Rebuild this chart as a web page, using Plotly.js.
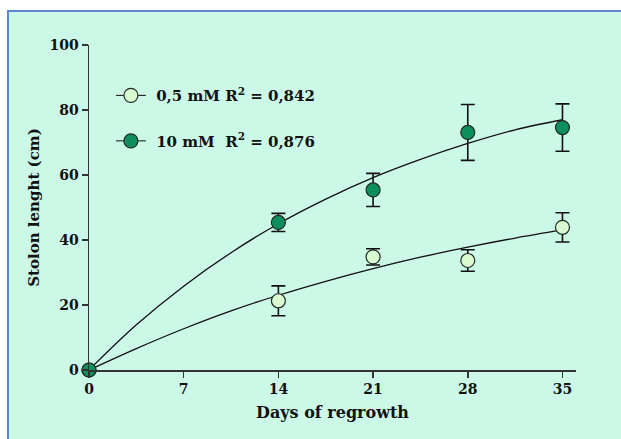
<!DOCTYPE html>
<html>
<head>
<meta charset="utf-8">
<script src="https://cdn.plot.ly/plotly-3.0.1.min.js"></script>
<style>
html,body{margin:0;padding:0;background:#ffffff;}
#wrap{position:absolute;left:7px;top:10px;width:614px;height:429px;box-sizing:border-box;border-left:2px solid #5b87cf;border-top:2px solid #5b87cf;background:#ccf8e8;}
#chart{position:absolute;left:0;top:0;width:621px;height:439px;}
</style>
</head>
<body>
<div id="wrap"></div>
<div id="chart"></div>
<script>
// Days of regrowth
const days = [0, 14, 21, 28, 35];
// 0,5 mM series (mean, error)
const low = [0, 21.3, 34.8, 33.7, 43.9];
const lowErr = [0, 4.6, 2.5, 3.3, 4.5];
// 10 mM series (mean, error)
const high = [0, 45.4, 55.4, 73.1, 74.6];
const highErr = [0, 2.8, 5.1, 8.6, 7.3];
// Fitted curves
const fitDays = [0, 3.5, 7, 10.5, 14, 17.5, 21, 24.5, 28, 31.5, 35];
const lowFit = [0, 6.6, 12.7, 18.2, 23.0, 27.3, 31.2, 34.7, 37.8, 40.6, 43.1];
const highFit = [0, 13.9, 25.8, 36.1, 45.0, 52.6, 59.2, 64.8, 69.7, 73.9, 77.0];
// Legend labels
const lowLabel = '&nbsp;0,5 mM R<sup>2</sup> = 0,842';
const highLabel = '&nbsp;10 mM&nbsp; R<sup>2</sup> = 0,876';
const xTicks = [0, 7, 14, 21, 28, 35];
const yTicks = [0, 20, 40, 60, 80, 100];

const FONT = 'DejaVu Serif, Liberation Serif, serif';
const lowColor = '#d8fbcf';
const highColor = '#0d8f5d';
const edge = '#1f2a24';

const traces = [
  {x: fitDays, y: lowFit, mode: 'lines', line: {color: '#111', width: 1.3, shape: 'spline'}, showlegend: false, hoverinfo: 'skip', cliponaxis: false},
  {x: fitDays, y: highFit, mode: 'lines', line: {color: '#111', width: 1.3, shape: 'spline'}, showlegend: false, hoverinfo: 'skip', cliponaxis: false},
  {x: days, y: low, mode: 'markers', showlegend: false, cliponaxis: false,
   marker: {size: 14, color: lowColor, line: {color: edge, width: 1.2}},
   error_y: {type: 'data', array: lowErr, visible: true, color: '#111', thickness: 1.6, width: 7}},
  {x: days, y: high, mode: 'markers', showlegend: false, cliponaxis: false,
   marker: {size: 14, color: highColor, line: {color: edge, width: 1.2}},
   error_y: {type: 'data', array: highErr, visible: true, color: '#111', thickness: 1.6, width: 7}},
  {x: [null], y: [null], mode: 'lines+markers', name: lowLabel, legendgroup: 'a',
   line: {color: '#111', width: 1}, marker: {size: 14, color: lowColor, line: {color: edge, width: 1.2}}},
  {x: [null], y: [null], mode: 'lines+markers', name: highLabel, legendgroup: 'b',
   line: {color: '#111', width: 1}, marker: {size: 14, color: highColor, line: {color: edge, width: 1.2}}}
];

const layout = {
  width: 621, height: 439,
  paper_bgcolor: 'rgba(0,0,0,0)',
  plot_bgcolor: 'rgba(0,0,0,0)',
  margin: {l: 89, r: 45, t: 45, b: 69},
  font: {family: FONT, color: '#111', size: 14},
  showlegend: true,
  legend: {x: 0.045, y: 0.895, xanchor: 'left', yanchor: 'top', bgcolor: 'rgba(0,0,0,0)', itemwidth: 30,
    font: {family: FONT, size: 15, color: '#111', weight: 'bold'}, tracegroupgap: 23, traceorder: 'grouped'},
  xaxis: {range: [0, 36], tickvals: xTicks, ticktext: xTicks.map(String), showgrid: false, zeroline: false,
    showline: true, linecolor: '#333', linewidth: 1.5, ticks: 'outside', ticklen: 6, tickcolor: '#333', tickwidth: 1.5,
    tickfont: {family: FONT, size: 14, weight: 'bold', color: '#111'},
    title: {text: 'Days of regrowth', font: {family: FONT, size: 16, weight: 'bold', color: '#111'}, standoff: 10}},
  yaxis: {range: [0, 100], tickvals: yTicks, ticktext: yTicks.map(String), showgrid: false, zeroline: false,
    showline: true, linecolor: '#333', linewidth: 1.5, ticks: 'outside', ticklen: 6, tickcolor: '#333', tickwidth: 1.5,
    tickfont: {family: FONT, size: 14, weight: 'bold', color: '#111'},
    title: {text: 'Stolon lenght (cm)', font: {family: FONT, size: 15, weight: 'bold', color: '#111'}, standoff: 6}}
};

Plotly.newPlot('chart', traces, layout, {displayModeBar: false, staticPlot: true});
</script>
</body>
</html>
